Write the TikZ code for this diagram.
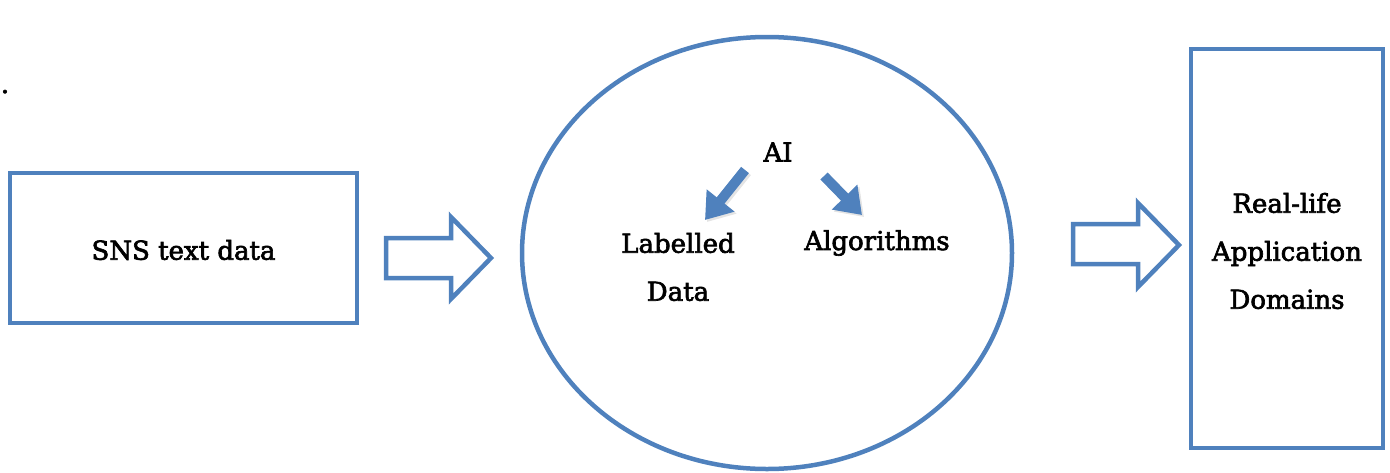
\documentclass[tikz,border=0pt]{standalone}
\usepackage{fontspec}
\setmainfont{DejaVu Serif}[FakeBold=2.5]
\usetikzlibrary{arrows.meta}
\definecolor{officeblue}{RGB}{79,129,189}
\tikzset{
  box/.style={draw=officeblue, line width=4.5pt},
  lbl/.style={font=\fontsize{26}{48}\selectfont, inner sep=0pt, align=center},
  hollow/.style={draw=officeblue, line width=4.5pt, fill=white, line join=miter},
  thickarrow/.style={draw=officeblue, line width=10pt, -{Triangle[width=34pt,length=25pt]}},
  arrowshadow/.style={draw=black!30, opacity=0.35, line width=10pt, -{Triangle[width=34pt,length=25pt]}}
}
\begin{document}
\begin{tikzpicture}[x=1pt,y=-1pt]
\useasboundingbox (0,0) rectangle (1390,472);
% stray dot
\node[lbl, anchor=base] (dot) at (5,93) {.};
% left box
\node[box, minimum width=347pt, minimum height=150pt, inner sep=0pt] (sns) at (183.5,248) {};
\node[lbl] (snst) at (183.5,250) {SNS text data};
% hollow arrow 1
\draw[hollow] (386,238) coordinate (a1s1) -- (451,238) -- (451,217) -- (491,258) coordinate (a1tip)
  -- (451,299) -- (451,278) -- (386,278) -- cycle;
% ellipse
\draw[box] (767,253) ellipse (245pt and 216pt);
\coordinate (ell) at (767,253);
% AI and children
\node[lbl] (ai) at (778,152) {AI};
\node[lbl, align=center] (lab) at (678,267) {Labelled\\Data};
\node[lbl] (alg) at (877,243) {Algorithms};
\coordinate (l1) at (745,170);
\coordinate (l2) at (705,220);
\coordinate (r1) at (824,176);
\coordinate (r2) at (862,215);
\draw[arrowshadow, transform canvas={shift={(2pt,-2pt)}}] (l1) -- (l2);
\draw[arrowshadow, transform canvas={shift={(2pt,-2pt)}}] (r1) -- (r2);
\draw[thickarrow] (l1) -- (l2);
\draw[thickarrow] (r1) -- (r2);
% hollow arrow 2
\draw[hollow] (1073,224) -- (1138,224) -- (1138,203) -- (1179,245) coordinate (a2tip)
  -- (1138,287) -- (1138,264) -- (1073,264) -- cycle;
% right box
\node[box, minimum width=192pt, minimum height=399pt, inner sep=0pt] (dom) at (1287,248.5) {};
\node[lbl] (domt) at (1287,251) {Real-life\\Application\\Domains};
\end{tikzpicture}
\end{document}
